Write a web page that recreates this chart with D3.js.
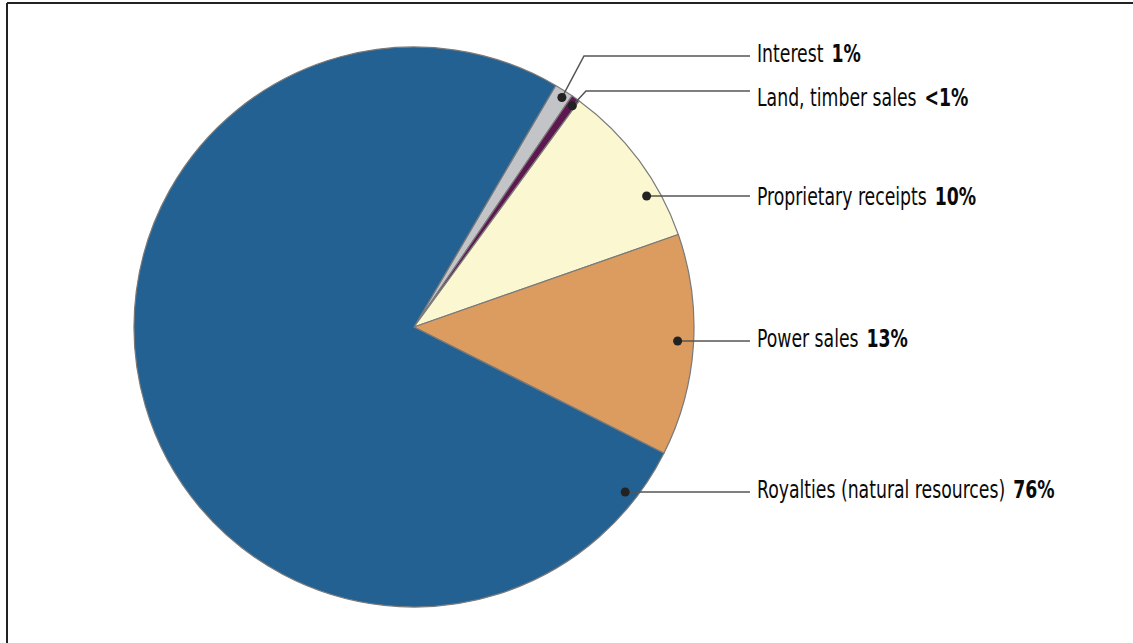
<!DOCTYPE html>
<html><head><meta charset="utf-8">
<script src="https://cdn.jsdelivr.net/npm/d3@7"></script>
<style>
html,body{margin:0;padding:0;background:#fff;}
svg{display:block;}
text{font-family:"DejaVu Sans Condensed","Liberation Sans Narrow",sans-serif;font-stretch:condensed;font-size:24px;fill:#0a0a0a;}
</style></head>
<body>
<svg id="chart" width="1133" height="643"></svg>
<script>
// Data
const categories = ["Interest", "Land, timber sales", "Proprietary receipts", "Power sales", "Royalties (natural resources)"];
const values = [1.1, 0.5, 9.6, 12.8, 76.0];
const pctLabels = ["1%", "<1%", "10%", "13%", "76%"];
const colors = ["#c3c4c8", "#5e1850", "#fbf7d0", "#dc9b5f", "#236192"];

// Layout
const W = 1133, H = 643;
const cx = 414, cy = 327, R = 280;
const startDeg = 30.4;
const anchorDeg = [32.8, 35.6, 60.6, 93.0, 128.0];
const anchorR = [273, 272, 267, 264, 268];
const labelY = [56, 91, 196, 341, 492];
const elbowX = [584, 586, null, null, null];
const lineEndX = 750, textX = 757;
const baselineOff = [6, 15, 9, 6, 6];
const sx = 0.8;

const svg = d3.select("#chart");

// frame
svg.append("line").attr("x1",7).attr("y1",3).attr("x2",W).attr("y2",3).attr("stroke","#222").attr("stroke-width",2);
svg.append("line").attr("x1",7).attr("y1",3).attr("x2",7).attr("y2",H).attr("stroke","#222").attr("stroke-width",2);

const data = categories.map((c,i)=>({name:c, value:values[i], pct:pctLabels[i], color:colors[i], i}));

const toRad = d => d*Math.PI/180;
const pie = d3.pie().sort(null).value(d=>d.value)
  .startAngle(toRad(startDeg)).endAngle(toRad(startDeg+360));
const arc = d3.arc().innerRadius(0).outerRadius(R);

const g = svg.append("g").attr("transform",`translate(${cx},${cy})`);
g.selectAll("path").data(pie(data)).join("path")
  .attr("d",arc)
  .attr("fill",d=>d.data.color)
  .attr("stroke","#7a7a7a")
  .attr("stroke-width",1.2)
  .attr("stroke-linejoin","round");

// leaders
data.forEach((d,i)=>{
  const a = toRad(anchorDeg[i]);
  const px = cx + anchorR[i]*Math.sin(a);
  const py = cy - anchorR[i]*Math.cos(a);
  let pts;
  if (elbowX[i] != null) pts = [[px,py],[elbowX[i],labelY[i]],[lineEndX,labelY[i]]];
  else pts = [[px,labelY[i]],[lineEndX,labelY[i]]];
  svg.append("path").attr("d",d3.line()(pts)).attr("fill","none")
    .attr("stroke","#555").attr("stroke-width",1.5);
  svg.append("circle").attr("cx",px).attr("cy",elbowX[i]!=null?py:labelY[i]).attr("r",4.5).attr("fill","#222");
  const t = svg.append("text")
    .attr("transform",`translate(${textX},${labelY[i]+baselineOff[i]}) scale(${sx},1)`);
  t.append("tspan").text(d.name);
  t.append("tspan").attr("dx",10).attr("font-weight","bold").text(d.pct);
});
</script>
</body></html>
